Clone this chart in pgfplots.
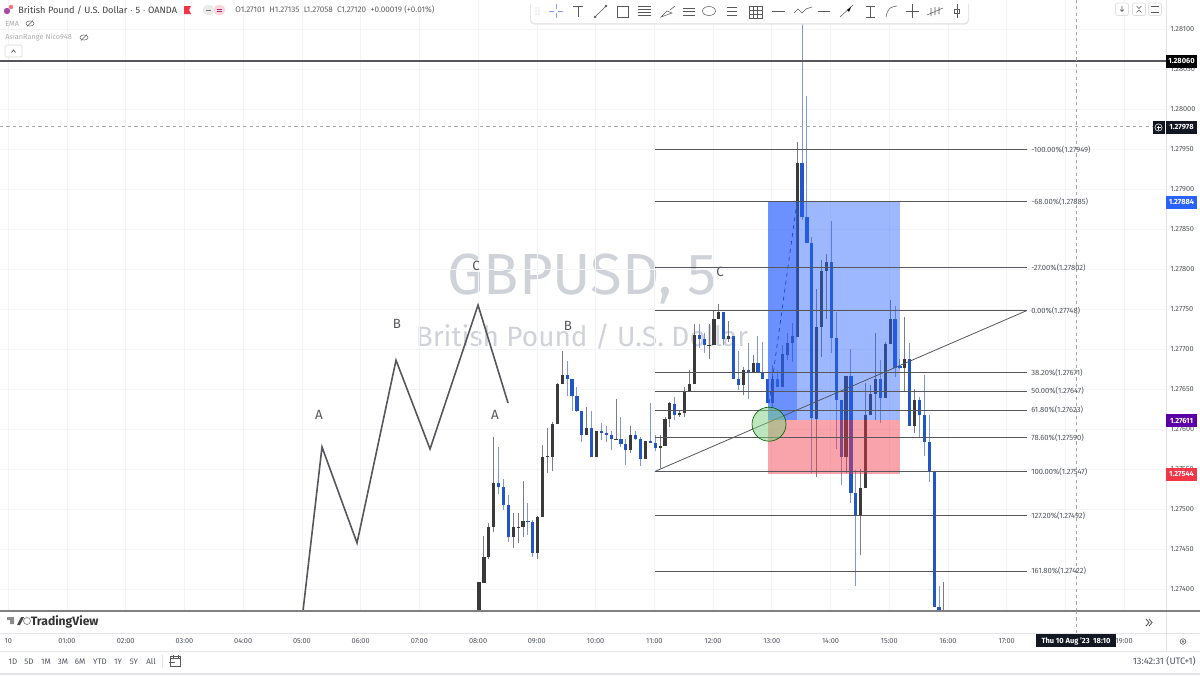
\documentclass[border=0pt]{standalone}
\usepackage{fontspec}
\usepackage{pgfplots}
\usepackage{pgfplotstable}
\pgfplotsset{compat=1.18}
\setmainfont{Fira Sans}
\newcommand\fs[1]{\fontsize{#1}{#1}\selectfont}

\definecolor{candledark}{HTML}{3A3A3C}
\definecolor{candleblue}{HTML}{2156C8}
\definecolor{wickdark}{HTML}{7B7D82}
\definecolor{wickblue}{HTML}{7E97DE}
\definecolor{tvblue}{HTML}{2962FF}
\definecolor{tvred}{HTML}{F23645}
\definecolor{tvink}{HTML}{131722}
\definecolor{gridc}{HTML}{F3F4F7}
\definecolor{linec}{HTML}{55575C}
\definecolor{labelc}{HTML}{50535E}
\definecolor{framec}{HTML}{E3E5EB}
\definecolor{markc}{HTML}{CFD2D8}

% prices are points above 1.27000; x is bars after 08:00
\pgfplotstableread{
n lo hi low high
0 340 409 340 409
1 408 440 408 466
2 440 478 438 482
3 478 533 471 590
7 465 477 451 495
8 476.5 477.5 457 495
9 477 485 465 535
12 445 490 437 491
13 490 565 490 580
14 564.5 566 545 601
15 565 606 547 609
16 606 656 606 657
17 656 667 656 697
22 593 601 593 628
24 565 598 565 598
28 586.5 587.5 586 637
31 574 593 570 604
34 563 585 563 585
37 576 579 551 592
38 579 612 579 615
39 612 632 602 634
41 617 620 615 624
42 620 647 615 652
43 647 656 646 674
44 656 717 656 731
47 704.5 705.5 687 731
48 705 737 705 747
49 737 746 737 756
51 713 716 709 735
54 655 674 642 678
56 670 683 670 692
60 633 663 628 680
62 652 694 652 705
63 692 707 686 720
64 707 716 684 732
65 715 933 715 959
69 613 728 540 775
70 728 798 690 811
71 798 809 737 819
75 565 666 545 666
78 491 526 442 550
79 526 617 526 657
80 617 644 617 655
81 644 662 611 720
83 639 706 639 709
84 706 737 706 761
87 676 687 646 740
89 604 636 595 650
95 372 373 372 409
}\upbars
\pgfplotstableread{
n lo hi low high
4 527 533 519 578
5 505 527 499 538
6 465 505 459 517
10 484 485 467 508
11 445 484 440 486
18 663 667 641 685
19 641 663 623 663
20 622 641 621 653
21 593 622 584 622
23 565 601 565 622
25 595 598 586 608
26 593 595 584 604
27 587 593 574 597
29 581 587 578 615
30 574 581 555 588
32 587 593 586 598
33 563 587 554 590
35 583 585 583 633
36 576 583 572 592
40 617 631 611 640
45 713 717 701 731
46 705 713 695 720
50 713 746 705 746
52 663 716 662 716
53 655 663 649 697
55 670 674 637 707
57 670 683 670 716
58 663 670 663 709
59 633 663 633 663
61 652 663 652 674
66 865 932 861 1120
67 832 865 832 1016
68 614 833 545 840
72 714 809 695 860
73 636 714 575 746
74 565 636 530 636
76 520 666 507 700
77 491 520 404 549
82 639 662 607 686
85 676 737 665 754
86 676 679 675 687
88 604 687 604 707
90 617 636 589 640
91 584 617 566 667
92 546 584 534 617
93 377 546 377 546
94 372 377 372 404
}\downbars

\pgfplotsset{
  wick/.style={draw=none, forget plot, no marks,
    error bars/.cd, y dir=plus, y explicit, error mark=none,
    error bar style={draw=#1, line width=0.75pt}},
  body/.style={draw=none, forget plot, no marks,
    error bars/.cd, y dir=plus, y explicit, error mark=none,
    error bar style={draw=#1, line width=2.4pt}},
  fib/.style={linec, line width=0.72pt, forget plot},
}

\newcommand\pricetag[3]{%
  \fill[#2] (1166,#1-6.5) rectangle (1197,#1+6.5);
  \node[white, font=\fs{5.6}\bfseries, inner sep=0pt] at (1181.5,#1) {#3};}
\newcommand\fiblabel[2]{\node[labelc, anchor=west, font=\fs{5.7}, inner sep=0pt] at (1031,#1) {#2};}
\newcommand\rangebtn[2]{\node[labelc, font=\fs{6}, inner sep=0pt] at (#1,661.5) {#2};}

\begin{document}
\begin{tikzpicture}
\path[use as bounding box] (0,0) rectangle (900pt,-506.25pt);

% watermark sits under the candles
\begin{scope}[x=0.75pt,y=-0.75pt]
  \node[font=\fs{43.5}, text=markc, inner sep=0pt] at (582,279) {GBPUSD, 5};
  \node[font=\fs{21}, text=markc, inner sep=0pt] at (582,337) {British Pound / U.S. Dollar};
\end{scope}

\begin{axis}[
  at={(0pt,-458.25pt)}, anchor=south west,
  scale only axis, width=874.5pt, height=458.25pt,
  xmin=-0.1408, xmax=19.712, ymin=372.5, ymax=1136.25,
  axis line style={draw=none}, tick style={draw=none},
  grid=major, major grid style={gridc, line width=0.5pt},
  xtick={0,1,...,19},
  xticklabels={10,01:00,02:00,03:00,04:00,05:00,06:00,07:00,08:00,09:00,10:00,11:00,12:00,13:00,14:00,15:00,16:00,17:00,,19:00},
  ytick={400,450,...,1100},
  yticklabels={1.27400,1.27450,1.27500,1.27550,1.27600,1.27650,1.27700,1.27750,1.27800,1.27850,1.27900,1.27950,1.28000,1.28050,1.28100},
  yticklabel pos=right,
  tick label style={font=\fs{5.5}, text=labelc, inner sep=0pt},
  x tick label style={anchor=center, yshift=-22.8pt},
  y tick label style={anchor=west, xshift=3.2pt},
]
  % hand-drawn ABC swing
  \addplot[linec, line width=1.2pt, forget plot] coordinates {
    (5.018,372.5) (5.342,577.5) (5.938,457.5) (6.602,686) (7.181,575) (7.998,755) (8.509,632.5)};

  % candles
  \addplot[wick=wickdark] table[x expr={8.015+\thisrow{n}/12}, y=low, y error plus expr={\thisrow{high}-\thisrow{low}}] {\upbars};
  \addplot[wick=wickblue] table[x expr={8.015+\thisrow{n}/12}, y=low, y error plus expr={\thisrow{high}-\thisrow{low}}] {\downbars};
  \addplot[body=candledark] table[x expr={8.015+\thisrow{n}/12}, y=lo, y error plus expr={\thisrow{hi}-\thisrow{lo}}] {\upbars};
  \addplot[body=candleblue] table[x expr={8.015+\thisrow{n}/12}, y=lo, y error plus expr={\thisrow{hi}-\thisrow{lo}}] {\downbars};

  % long position box
  \addplot[draw=none, fill=tvblue, fill opacity=0.45, forget plot] coordinates {(12.936,611) (15.18,611) (15.18,884) (12.936,884)} -- cycle;
  \addplot[draw=none, fill=tvblue, fill opacity=0.45, forget plot] coordinates {(12.936,611) (13.43,611) (13.43,884) (12.936,884)} -- cycle;
  \addplot[draw=none, fill=tvred, fill opacity=0.45, forget plot] coordinates {(12.936,544) (15.18,544) (15.18,611) (12.936,611)} -- cycle;
  \addplot[tvblue!70!black, dashed, line width=0.5pt, forget plot] coordinates {(12.953,632) (13.43,884)};

  % fib retracement
  \addplot[fib] coordinates {(11.01,949) (17.34,949)};
  \addplot[fib] coordinates {(11.01,885) (17.34,885)};
  \addplot[fib] coordinates {(11.01,802) (17.34,802)};
  \addplot[fib] coordinates {(11.01,748) (17.34,748)};
  \addplot[fib] coordinates {(11.01,671) (17.34,671)};
  \addplot[fib] coordinates {(11.01,647) (17.34,647)};
  \addplot[fib] coordinates {(11.01,623) (17.34,623)};
  \addplot[fib] coordinates {(11.01,590) (17.34,590)};
  \addplot[fib] coordinates {(11.01,547) (17.34,547)};
  \addplot[fib] coordinates {(11.01,492) (17.34,492)};
  \addplot[fib] coordinates {(11.01,422) (17.34,422)};
  \addplot[linec, line width=0.6pt, forget plot] coordinates {(11.01,547) (17.34,748)};

  % entry circle
  \addplot[only marks, mark=*, mark size=12.75pt, forget plot,
    mark options={fill=green!45!gray!70, fill opacity=0.5, draw=black!60!green, line width=0.5pt}]
    coordinates {(12.953,606)};

  % level and crosshair
  \addplot[linec, line width=1.1pt, forget plot] coordinates {(-0.1408,1060) (19.712,1060)};
  \addplot[black!35, line width=0.45pt, dash pattern=on 2.4pt off 2.4pt, forget plot] coordinates {(-0.1408,978) (19.48,978)};
  \addplot[black!35, line width=0.7pt, dash pattern=on 2.4pt off 2.4pt, forget plot] coordinates {(18.18,372.5) (18.18,1136.25)};
\end{axis}

\begin{scope}[x=0.75pt,y=-0.75pt]
  % wave letters
  \foreach \px/\py/\t in {319/415/A,397/324/B,476/266/C,495/415/A,568/326/B,720/272/C}
    \node[text=linec, font=\fs{10}, inner sep=0pt] at (\px,\py) {\t};

  % frame
  \draw[framec, line width=0.6pt] (1166,0) -- (1166,651);
  \draw[black!50, line width=1pt] (0,611) -- (1200,611);
  \draw[framec, line width=0.6pt] (0,633) -- (1200,633);
  \draw[framec, line width=0.6pt] (0,651) -- (1200,651);
  \fill[framec] (0,673) rectangle (1200,675);
  \draw[black!35, line width=0.7pt, dash pattern=on 2.4pt off 2.4pt] (1076,611) -- (1076,634);

  % fib labels
  \fiblabel{150}{-100.00\%(1.27949)}
  \fiblabel{201.5}{-68.00\%(1.27885)}
  \fiblabel{268}{-27.00\%(1.27802)}
  \fiblabel{311}{0.00\%(1.27748)}
  \fiblabel{372.5}{38.20\%(1.27671)}
  \fiblabel{391}{50.00\%(1.27647)}
  \fiblabel{410}{61.80\%(1.27623)}
  \fiblabel{437.5}{78.60\%(1.27590)}
  \fiblabel{471.5}{100.00\%(1.27547)}
  \fiblabel{515.5}{127.20\%(1.27492)}
  \fiblabel{571}{161.80\%(1.27422)}

  % price tags
  \pricetag{61}{black}{1.28060}
  \pricetag{127.5}{tvink}{1.27978}
  \pricetag{202}{tvblue}{1.27884}
  \pricetag{420.5}{violet!70!blue}{1.27611}
  \pricetag{474}{tvred}{1.27544}
  \fill[tvink] (1153,121) rectangle (1165,134);
  \draw[white, line width=0.4pt] (1158.5,127.5) circle (3.6);
  \draw[white, line width=0.4pt] (1156.5,127.5) -- (1160.5,127.5) (1158.5,125.5) -- (1158.5,129.5);

  % date box
  \fill[tvink] (1036,634) rectangle (1116,647);
  \node[white, font=\fs{5.6}\bfseries, inner sep=0pt] at (1076,641) {Thu 10 Aug '23 \ 18:10};

  % legend block
  \fill[red!50!blue!70] (7,11) circle (3.2);
  \fill[tvred!70] (11,7) circle (2.2);
  \node[anchor=west, text=black!75, font=\fs{6.9}, inner sep=0pt] at (18,10) {British Pound / U.S. Dollar $\cdot$ 5 $\cdot$ OANDA};
  \fill[tvred] (184,6) -- (191,6) -- (189,10) -- (191,14) -- (184,14) -- cycle;
  \fill[black!8, rounded corners=3] (203,5) rectangle (214,15);
  \fill[tvred!20, rounded corners=3] (214,5) rectangle (225,15);
  \draw[black!55, line width=0.7pt] (206,10) -- (211,10);
  \draw[tvred!70!blue, line width=0.6pt] (217,9) -- (222,9) (217,11) -- (222,11);
  \node[anchor=west, text=black!62, font=\fs{6.1}, inner sep=0pt] at (235,10) {O1.27101 \ H1.27135 \ L1.27058 \ C1.27120 \ +0.00019 (+0.01\%)};
  \node[anchor=west, text=black!32, font=\fs{5.5}, inner sep=0pt] at (5,23.5) {EMA};
  \node[anchor=west, text=black!32, font=\fs{5.5}, inner sep=0pt] at (5,37.5) {AsianRange Nico948};
  \foreach \ex/\ey in {30/23.5,84/37.5} {
    \draw[black!60, line width=0.4pt] (\ex,\ey) ellipse (4 and 2.6);
    \draw[black!60, line width=0.4pt] (\ex-3,\ey+3) -- (\ex+3,\ey-3);
  }
  \draw[black!15, rounded corners=1, fill=white, line width=0.4pt] (5,45) rectangle (22,57);
  \draw[black!70, line width=0.5pt] (11.5,52.5) -- (13.5,50) -- (15.5,52.5);

  % drawing toolbar
  \fill[black!10, rounded corners=3] (530,1) rectangle (969,24.5);
  \fill[white, rounded corners=3] (531,-3) rectangle (968,23);
  \begin{scope}[black!65, line width=0.4pt]
    \foreach \dy in {8,11,14} \fill[black!25] (536,\dy) circle (0.6) (539,\dy) circle (0.6);
    \draw[tvblue!60] (549,11) -- (554,11) (558,11) -- (563,11) (556,4) -- (556,9) (556,13) -- (556,18);
    \draw (573,6) -- (583,6) (578,6) -- (578,17);
    \draw (595,17) -- (606,6) (595,17) circle (1) (606,6) circle (1);
    \draw (617,6) rectangle (628,17);
    \draw (638,6) -- (651,6) (638,9) -- (651,9) (638,12) -- (651,12) (638,15) -- (651,15);
    \draw (661,17) -- (667,11) -- (672,13) -- cycle (670,10) -- (675,6);
    \draw (683,8) -- (695,8) (683,11) -- (695,11) (683,15) -- (695,15);
    \draw (709,11) ellipse (6.5 and 4.5);
    \draw (727,7) -- (737,7) (727,11) -- (737,11) (727,15) -- (737,15);
    \draw (749,6) rectangle (762,18) (753,6) -- (753,18) (757.5,6) -- (757.5,18) (749,10) -- (762,10) (749,14) -- (762,14);
    \draw (772,11) -- (785,11);
    \draw (794,13) -- (798,9) -- (802,13) -- (806,9) -- (812,7);
    \draw (818,11) -- (830,11);
    \draw (840,17) -- (853,5);
    \fill[black] (847,10) -- (851,7) -- (849,12) -- cycle;
    \draw (866,6) -- (875,6) (870,6) -- (870,17) (866,17) -- (875,17);
    \draw (886,17) .. controls (888,8) and (890,7) .. (897,6);
    \draw (906,11) -- (919,11) (912.5,4) -- (912.5,18);
    \draw (927,15) -- (943,8) (931,8) -- (931,16) (935,7) -- (935,15) (939,7) -- (939,14);
    \draw (957,4) -- (957,18) (954.5,9) rectangle (959.5,13);
  \end{scope}

  % top-right buttons
  \foreach \bx/\t in {1122/,1139/,1155/} \draw[black!12, rounded corners=1.5, fill=white, line width=0.5pt] (\bx-6.5,3) rectangle (\bx+6.5,15.5);
  \draw[black!65, line width=0.5pt] (1122,6) -- (1122,11.5) (1120,9.5) -- (1122,11.5) -- (1124,9.5);
  \draw[black!65, line width=0.5pt] (1136.5,6) -- (1139,8.5) -- (1141.5,6) (1136.5,12.5) -- (1139,10) -- (1141.5,12.5);
  \draw[black!65, line width=0.5pt] (1151,6) -- (1159,6) (1151,12.5) -- (1159,12.5);

  % logo and scroll button
  \node[anchor=west, text=black!80, font=\fs{9.1}\bfseries, inner sep=0pt] at (30.5,621.5) {TradingView};
  \fill[black!45] (7,617) -- (14,617) -- (14,624) -- (10,624) -- (10,620) -- (7,620) -- cycle;
  \fill[black!70] (21,617) -- (24,617) -- (20,625) -- (17,625) -- cycle;
  \draw[black!50, line width=0.5pt] (27,621) circle (3.5);
  \fill[white] (1139,613) rectangle (1158,631);
  \draw[black!70, line width=0.6pt] (1146,619) -- (1149,622.5) -- (1146,626) (1149,619) -- (1152,622.5) -- (1149,626);
  \draw[black!60, line width=0.5pt] (1183,641.5) circle (2.8);
  \draw[black!60, line width=0.4pt] (1183,641.5) circle (1);

  % bottom bar
  \rangebtn{13}{1D}\rangebtn{29}{5D}\rangebtn{46}{1M}\rangebtn{63}{3M}\rangebtn{80}{6M}
  \rangebtn{100}{YTD}\rangebtn{118}{1Y}\rangebtn{134}{5Y}\rangebtn{151}{All}
  \draw[framec, line width=0.6pt] (162,655) -- (162,668);
  \draw[black!65, line width=0.5pt] (170.5,658) -- (180,658) (170.5,656.5) rectangle (180,666);
  \draw[black!65, line width=0.5pt] (173,655) -- (173,657.5) (178,655) -- (178,657.5) (169,662.5) -- (175,662.5);
  \node[anchor=east, text=labelc, font=\fs{7}, inner sep=0pt] at (1196,661.5) {13:42:31 (UTC+1)};
\end{scope}
\end{tikzpicture}
\end{document}
